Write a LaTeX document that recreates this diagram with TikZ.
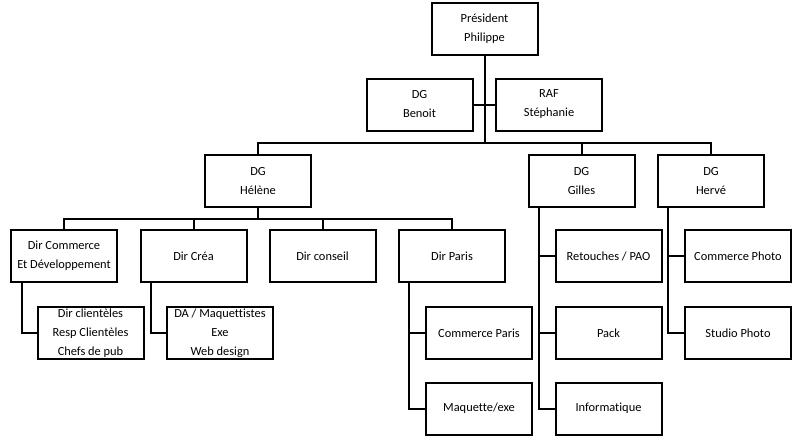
\documentclass[tikz,border=0pt]{standalone}
\usepackage{fontspec}
\setmainfont{Carlito}[Ligatures=NoCommon]
\begin{document}
\begin{tikzpicture}[x=1pt,y=-1pt,
  box/.style={draw, line width=2pt, minimum width=106pt, minimum height=52pt,
    inner sep=0pt, align=center, font=\fontsize{12.4}{19}\selectfont},
  link/.style={line width=2pt}]
\fill[white] (0,0) rectangle (800,442);
\useasboundingbox (0,0) rectangle (800,442);
% nodes
\node[box] (pres) at (484.5,29) {Président\\Philippe};
\node[box] (benoit) at (419.5,104.5) {DG\\Benoit};
\node[box] (raf) at (549,104.5) {RAF\\Stéphanie};
\node[box] (helene) at (258,181) {DG\\Hélène};
\node[box] (gilles) at (581.5,181) {DG\\Gilles};
\node[box] (herve) at (711,181) {DG\\Hervé};
\node[box] (dircom) at (64,256) {Dir Commerce\\Et Développement};
\node[box] (dircrea) at (193.5,256) {Dir Créa};
\node[box] (dirconseil) at (322.5,256) {Dir conseil};
\node[box] (dirparis) at (452,256) {Dir Paris};
\node[box] (clients) at (90.5,333) {Dir clientèles\\Resp Clientèles\\Chefs de pub};
\node[box] (da) at (220,333) {DA / Maquettistes\\Exe\\Web design};
\node[box] (comparis) at (479,333) {Commerce Paris};
\node[box] (maquette) at (479,408.5) {Maquette/exe};
\node[box] (retouches) at (608.5,256) {Retouches / PAO};
\node[box] (pack) at (608.5,333) {Pack};
\node[box] (info) at (608.5,408.5) {Informatique};
\node[box] (comphoto) at (738,256) {Commerce Photo};
\node[box] (studio) at (738,333) {Studio Photo};
% connectors
\coordinate (bus) at (484.5,143);
\draw[link] (pres.south) -- (bus);
\draw[link] (benoit.east) -- (raf.west);
\draw[link] (helene.north) -- ++(0,-11) -| (herve.north);
\draw[link] (gilles.north) -- (gilles.north |- bus);
\coordinate (hb) at (258,219);
\draw[link] (helene.south) -- (hb);
\draw[link] (dircom.north) |- (hb) -| (dirparis.north);
\draw[link] (dircrea.north) -- (dircrea.north |- hb);
\draw[link] (dirconseil.north) -- (dirconseil.north |- hb);
\draw[link] ([xshift=-42pt]dircom.south) |- (clients.west);
\draw[link] ([xshift=-42.5pt]dircrea.south) |- (da.west);
\coordinate (pl) at ([xshift=-43pt]dirparis.south);
\draw[link] (pl) |- (maquette.west);
\draw[link] (comparis.west) -- (comparis.west -| pl);
\coordinate (gl) at ([xshift=-42.5pt]gilles.south);
\draw[link] (gl) |- (info.west);
\draw[link] (retouches.west) -- (retouches.west -| gl);
\draw[link] (pack.west) -- (pack.west -| gl);
\coordinate (hl) at ([xshift=-43pt]herve.south);
\draw[link] (hl) |- (studio.west);
\draw[link] (comphoto.west) -- (comphoto.west -| hl);
\end{tikzpicture}
\end{document}
